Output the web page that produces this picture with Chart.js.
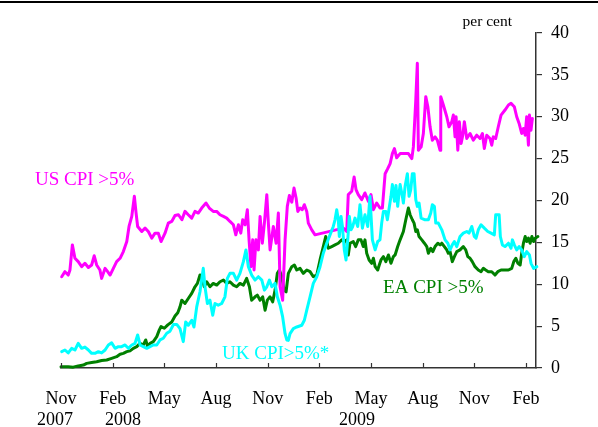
<!DOCTYPE html>
<html>
<head>
<meta charset="utf-8">
<script src="https://cdn.jsdelivr.net/npm/chart.js@4.4.1/dist/chart.umd.min.js"></script>
<style>
  html, body { margin: 0; padding: 0; background: #fff; }
  .wrap { width: 598px; height: 427px; position: relative; }
  .rule { position: absolute; left: 0; top: 1px; width: 598px; height: 2px; background: #000; z-index: 2; }
</style>
</head>
<body>
<div class="wrap"><div class="rule"></div><canvas id="chart"></canvas></div>
<script>
// x values are months since 1 Nov 2007
const usMonths = [0.04,0.23,0.42,0.52,0.66,0.81,1.00,1.20,1.39,1.59,1.78,1.93,2.07,2.26,2.36,2.56,2.71,2.85,3.04,3.23,3.43,3.62,3.82,3.95,4.11,4.26,4.36,4.45,4.69,4.88,5.07,5.27,5.46,5.65,5.81,6.04,6.23,6.43,6.62,6.82,7.02,7.20,7.39,7.59,7.78,7.97,8.17,8.42,8.61,8.84,9.04,9.23,9.43,9.62,9.81,10.01,10.15,10.30,10.44,10.55,10.69,10.82,10.92,11.03,11.13,11.21,11.32,11.46,11.56,11.69,11.81,11.95,12.04,12.14,12.33,12.49,12.62,12.72,12.87,13.01,13.14,13.26,13.40,13.53,13.65,13.75,13.88,14.01,14.13,14.27,14.36,14.56,14.75,16.39,16.59,16.68,16.88,17.02,17.13,17.26,17.46,17.65,17.85,18.00,18.14,18.33,18.52,18.66,18.82,18.97,19.11,19.24,19.36,19.49,19.69,19.98,20.17,20.37,20.46,20.60,20.69,20.75,20.91,21.04,21.18,21.30,21.43,21.56,21.72,21.85,22.01,22.05,22.20,22.40,22.53,22.69,22.78,22.88,22.94,23.04,23.13,23.23,23.33,23.42,23.56,23.75,23.94,24.14,24.33,24.47,24.58,24.72,24.91,25.01,25.10,25.24,25.39,25.55,25.78,25.98,26.13,26.32,26.46,26.60,26.75,26.85,26.95,27.04,27.14,27.20,27.29,27.37];
const usValues = [10.9,11.5,11.1,11.7,14.7,13.1,12.7,12.1,12.5,12.0,12.3,13.4,12.3,11.7,10.7,11.9,11.5,11.1,11.9,12.7,13.1,13.9,15.1,16.9,18.1,20.5,18.5,16.9,16.3,16.7,16.3,15.5,16.1,16.1,15.1,16.1,17.3,17.5,18.2,18.3,17.7,18.7,18.3,17.9,18.7,18.5,19.1,19.7,19.1,18.7,18.7,18.3,18.1,17.9,17.5,17.1,15.9,17.1,16.1,17.7,17.1,18.9,15.3,12.1,15.3,11.7,15.3,14.1,18.1,14.9,17.3,20.7,17.3,14.1,16.9,14.9,18.5,9.7,8.1,15.3,19.3,20.6,19.8,21.5,20.3,18.7,19.1,18.9,19.5,18.7,17.3,16.5,15.9,16.7,16.3,20.7,21.1,22.8,21.3,20.7,20.1,20.9,19.9,20.7,18.9,19.7,19.1,19.1,23.2,23.8,24.4,25.6,26.2,25.1,25.6,25.6,25.6,25.0,26.4,32.0,36.4,26.0,26.4,28.0,32.4,31.2,28.8,27.2,27.6,27.2,26.0,32.4,31.4,30.0,28.8,29.4,30.2,27.6,30.0,26.0,29.4,26.8,27.8,29.4,27.4,28.0,27.2,27.8,27.4,28.0,26.2,27.8,27.4,26.6,27.6,27.4,28.8,30.2,30.8,31.4,31.6,31.2,30.0,29.2,28.0,28.6,27.8,30.0,26.6,30.2,28.4,29.8];

const ukMonths = [0.04,0.23,0.42,0.62,0.81,1.00,1.20,1.39,1.59,1.78,1.97,2.17,2.36,2.56,2.75,2.94,3.14,3.33,3.52,3.72,3.91,4.11,4.30,4.45,4.59,4.78,4.98,5.17,5.36,5.56,5.75,5.94,6.14,6.33,6.53,6.72,6.91,7.10,7.24,7.39,7.59,7.72,7.88,8.07,8.26,8.36,8.50,8.65,8.81,8.94,9.13,9.33,9.52,9.66,9.81,10.01,10.20,10.39,10.59,10.74,10.88,11.07,11.27,11.46,11.66,11.81,11.95,12.10,12.24,12.43,12.56,12.72,12.87,13.01,13.11,13.20,13.30,13.49,13.69,13.98,14.13,14.27,14.46,14.65,14.85,15.04,15.23,15.43,15.62,15.81,15.91,16.01,16.10,16.16,16.26,16.34,16.45,16.55,16.65,16.74,16.84,16.94,17.07,17.23,17.36,17.50,17.65,17.81,17.94,18.08,18.24,18.39,18.52,18.62,18.72,18.86,18.95,19.07,19.16,19.24,19.36,19.45,19.55,19.63,19.69,19.82,19.88,19.98,20.11,20.21,20.31,20.40,20.50,20.60,20.69,20.79,20.91,21.14,21.33,21.47,21.56,21.68,21.76,21.91,22.11,22.30,22.46,22.59,22.72,22.84,22.98,23.17,23.36,23.56,23.69,23.85,24.00,24.10,24.23,24.39,24.58,24.78,24.97,25.16,25.24,25.44,25.51,25.63,25.78,25.98,26.13,26.21,26.32,26.46,26.60,26.75,26.90,27.04,27.20,27.29,27.44,27.63];
const ukValues = [1.95,2.15,1.8,2.35,2.15,2.95,2.35,2.5,2.15,1.75,1.75,1.95,1.8,2.15,2.75,3.0,2.35,2.55,2.55,2.75,2.35,2.75,2.95,3.95,2.75,2.55,2.35,2.55,2.75,2.75,3.35,3.55,4.15,4.4,5.2,5.2,4.7,3.15,5.5,5.1,5.7,4.9,7.3,9.1,11.9,9.7,7.7,8.1,6.3,7.7,7.5,7.7,8.5,10.7,11.3,11.3,10.5,11.3,12.7,14.1,12.1,11.1,10.5,10.9,10.5,9.3,9.7,10.5,9.7,10.1,8.5,7.5,6.1,4.1,3.35,3.3,4.1,4.7,4.9,5.1,5.7,6.9,8.5,10.1,10.9,12.1,13.7,14.9,15.9,16.9,17.7,18.9,17.7,15.7,18.1,16.9,14.1,12.9,15.3,18.1,16.5,16.9,17.9,16.9,19.5,16.7,18.3,16.9,20.5,15.3,14.1,15.1,15.3,17.3,18.7,18.7,17.7,19.3,20.5,21.9,19.9,21.8,19.3,20.9,21.9,20.5,19.7,21.7,23.2,20.5,21.3,23.2,23.2,20.1,19.3,19.7,17.9,17.7,17.7,18.5,19.5,19.3,17.3,17.3,16.5,15.3,14.9,14.1,14.7,15.1,14.5,15.7,16.1,16.3,16.1,16.9,15.7,15.5,16.5,17.1,16.7,16.3,16.1,15.9,18.3,18.3,15.7,14.7,14.5,14.9,14.3,15.3,14.7,14.1,14.5,14.1,13.3,13.9,13.5,12.5,11.9,12.1];

const eaMonths = [0.00,0.42,0.71,1.00,1.30,1.49,1.78,2.07,2.36,2.65,2.94,3.23,3.43,3.62,3.82,4.01,4.20,4.40,4.59,4.78,4.92,5.03,5.17,5.36,5.56,5.71,5.81,6.00,6.20,6.43,6.62,6.78,6.91,7.01,7.20,7.39,7.59,7.78,7.92,8.07,8.21,8.32,8.46,8.65,8.84,9.04,9.23,9.43,9.62,9.81,10.01,10.20,10.39,10.59,10.78,10.94,11.07,11.27,11.40,11.56,11.71,11.85,11.98,12.14,12.29,12.43,12.56,12.68,12.82,12.95,13.07,13.20,13.40,13.55,13.69,13.88,14.07,14.27,14.46,14.65,14.85,15.04,15.23,15.37,15.52,15.72,15.91,16.10,16.30,16.45,16.59,16.68,16.78,16.97,17.11,17.26,17.42,17.55,17.65,17.75,17.89,18.04,18.14,18.24,18.39,18.48,18.58,18.72,18.86,19.01,19.16,19.30,19.40,19.55,19.69,19.88,20.02,20.17,20.27,20.40,20.50,20.60,20.69,20.79,20.95,21.10,21.24,21.33,21.47,21.59,21.72,21.88,22.01,22.11,22.26,22.40,22.49,22.59,22.72,22.84,22.98,23.17,23.36,23.50,23.62,23.75,23.88,24.04,24.23,24.39,24.52,24.66,24.81,25.01,25.20,25.36,25.55,25.78,25.98,26.17,26.29,26.41,26.53,26.66,26.75,26.85,26.95,27.04,27.14,27.24,27.34,27.44,27.53,27.69];
const eaValues = [0.15,0.15,0.1,0.25,0.35,0.55,0.65,0.75,0.9,0.95,1.15,1.35,1.65,1.75,1.95,2.05,2.35,2.55,2.95,2.75,3.35,2.55,2.95,3.15,3.75,4.55,4.95,4.75,5.15,5.5,6.2,6.6,7.3,8.1,7.7,8.3,8.9,9.7,10.1,11.1,10.5,9.7,10.3,9.7,10.1,9.9,10.3,10.5,10.1,10.3,9.9,9.7,10.1,9.9,10.7,9.7,8.1,8.5,8.7,8.1,8.5,6.9,8.1,8.5,7.9,9.3,11.3,11.7,10.9,9.3,9.1,11.3,12.1,12.3,11.7,11.9,11.3,11.7,11.5,10.9,11.1,12.9,14.5,15.7,14.3,14.5,14.7,14.9,15.3,15.1,15.3,13.5,14.9,15.1,14.5,15.3,15.3,14.5,15.3,13.7,12.9,12.5,13.1,12.1,11.7,12.3,12.9,13.3,12.7,13.5,12.5,13.3,13.5,14.5,15.3,16.3,17.7,19.1,18.3,17.7,17.3,16.3,16.5,15.7,15.3,14.9,14.5,13.7,14.3,13.9,14.5,14.9,14.7,14.9,14.5,14.1,13.7,13.9,12.7,13.3,13.9,14.1,14.5,14.1,13.3,13.1,12.7,12.1,11.7,11.5,11.9,11.7,11.5,11.5,11.1,11.5,11.7,11.7,11.7,11.9,12.7,13.1,12.5,12.3,13.7,14.9,15.7,15.1,15.5,14.9,15.7,15.1,15.5,15.7];

const monthTicks = [0, 3, 6, 9, 12, 15, 18, 21, 24, 27];
const monthLabels = ["Nov", "Feb", "May", "Aug", "Nov", "Feb", "May", "Aug", "Nov", "Feb"];
const yearLabels = ["2007", "2008", "2009"];
const yearAt = [-0.35, 3.6, 17.19];
const valueTicks = [0, 5, 10, 15, 20, 25, 30, 35, 40];

const seriesNames = ["US CPI >5%", "UK CPI>5%*", "EA CPI >5%"];
const seriesColors = ["#ff00ff", "#00ffff", "#008000"];
// where each series name sits, in (month, per cent)
const nameAt = [[-1.51, 22.4], [9.35, 1.67], [18.7, 9.55]];

const serif = "'Liberation Serif', 'Times New Roman', serif";

function toPoints(xs, ys) {
  return xs.map((x, i) => ({ x: x, y: ys[i] }));
}

const extras = {
  id: "extras",
  afterDraw(chart) {
    const ctx = chart.ctx;
    const xs = chart.scales.x;
    const ys = chart.scales.y;
    const area = chart.chartArea;
    ctx.save();

    // upward tick marks on the time axis
    ctx.strokeStyle = "#333";
    ctx.lineWidth = 1.2;
    monthTicks.forEach(v => {
      const px = Math.round(xs.getPixelForValue(v)) + 0.5;
      ctx.beginPath();
      ctx.moveTo(px, area.bottom);
      ctx.lineTo(px, area.bottom - 5);
      ctx.stroke();
    });

    // year labels
    ctx.fillStyle = "#000";
    ctx.font = "18px " + serif;
    ctx.textAlign = "center";
    ctx.textBaseline = "middle";
    yearLabels.forEach((t, i) => {
      ctx.fillText(t, xs.getPixelForValue(yearAt[i]), area.bottom + 52);
    });

    // unit
    ctx.font = "15.5px " + serif;
    ctx.textAlign = "right";
    ctx.fillText("per cent", area.right - 24, area.top - 11);

    // series names
    ctx.font = "19px " + serif;
    ctx.textAlign = "left";
    seriesNames.forEach((t, i) => {
      ctx.fillStyle = seriesColors[i];
      ctx.fillText(t, xs.getPixelForValue(nameAt[i][0]), ys.getPixelForValue(nameAt[i][1]));
    });
    ctx.restore();
  }
};

const lineStyle = {
  borderWidth: 3,
  pointRadius: 0,
  tension: 0,
  clip: false,
  borderJoinStyle: "round",
  borderCapStyle: "round",
  fill: false
};

new Chart(document.getElementById("chart"), {
  type: "line",
  data: {
    datasets: [
      Object.assign({ label: seriesNames[1], data: toPoints(ukMonths, ukValues), borderColor: seriesColors[1] }, lineStyle),
      Object.assign({ label: seriesNames[0], data: toPoints(usMonths, usValues), borderColor: seriesColors[0] }, lineStyle),
      Object.assign({ label: seriesNames[2], data: toPoints(eaMonths, eaValues), borderColor: seriesColors[2] }, lineStyle)
    ]
  },
  options: {
    responsive: true,
    maintainAspectRatio: false,
    animation: false,
    layout: { padding: { left: 61, top: 33, right: 0, bottom: 0 } },
    plugins: { legend: { display: false }, tooltip: { enabled: false } },
    scales: {
      x: {
        type: "linear",
        min: 0,
        max: 27.58,
        afterBuildTicks: s => { s.ticks = monthTicks.map(v => ({ value: v })); },
        afterFit: s => { s.height = 59; },
        grid: { display: false, drawTicks: false },
        border: { display: true, color: "#333", width: 1.5 },
        ticks: {
          autoSkip: false,
          maxRotation: 0,
          padding: 20,
          color: "#000",
          font: { family: serif, size: 18 },
          callback: (v, i) => monthLabels[i]
        }
      },
      y: {
        position: "right",
        min: 0,
        max: 40,
        afterBuildTicks: s => { s.ticks = valueTicks.map(v => ({ value: v })); },
        afterFit: s => { s.width = 62; },
        grid: { display: true, drawOnChartArea: false, drawTicks: true, tickLength: 6, color: "#333", lineWidth: 1.2 },
        border: { display: true, color: "#333", width: 1.5 },
        ticks: {
          padding: 9,
          color: "#000",
          font: { family: serif, size: 18 }
        }
      }
    }
  },
  plugins: [extras]
});
</script>
</body>
</html>
